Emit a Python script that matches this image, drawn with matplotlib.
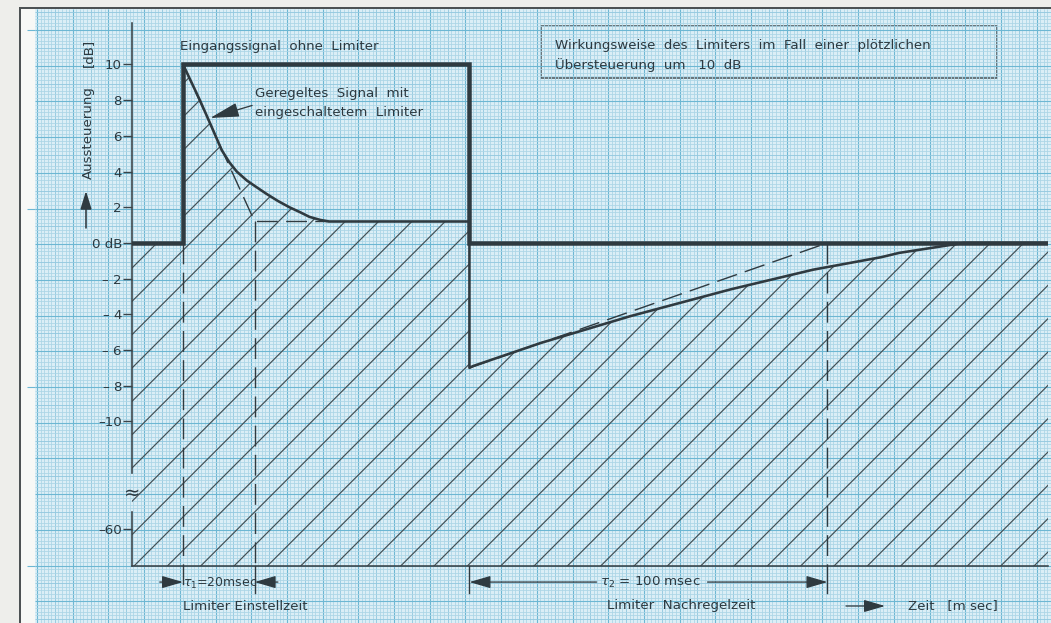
import numpy as np
import matplotlib
matplotlib.use("Agg")
import matplotlib.pyplot as plt
from matplotlib.patches import Rectangle

# ---------------- data ----------------
# time in ms (0 = onset of the 10 dB overload), level in dB
t_input = [-14.25, 0, 0, 80, 80, 241.6]
db_input = [0, 0, 10, 10, 0, 0]

t_attack = [0, 4.7, 8.0, 10.8, 13.0, 15.0, 17.8, 20.7, 23.3, 26.5, 29.7, 32.7, 35.3, 38.3, 40.8, 80]
db_attack = [10, 8.0, 6.5, 5.2, 4.5, 4.0, 3.5, 3.1, 2.75, 2.35, 2.0, 1.72, 1.46, 1.29, 1.2, 1.2]

t_release = [80, 81, 100, 125, 153, 176, 195, 200, 210, 218, 241.6]
db_release = [-7.0, -6.9, -5.6, -4.1, -2.6, -1.5, -0.8, -0.56, -0.25, 0, 0]

t_tangent_attack = [0, 20, 40.8]
db_tangent_attack = [10, 1.2, 1.2]
t_tangent_release = [80, 180]
db_tangent_release = [-7.0, 0]

tau1_start, tau1_end = 0, 20      # 20 msec
tau2_start, tau2_end = 80, 180    # 100 msec

ytick_values = [10, 8, 6, 4, 2, 0, -2, -4, -6, -8, -10, -16]
ytick_labels = ["10", "8", "6", "4", "2", "0 dB", "\u2013 2", "\u2013 4", "\u2013 6",
                "\u2013 8", "\u201310", "\u201360"]
break_level = -14.0

# ---------------- style ----------------
DPI = 200
def pt(px):
    return px * 72.0 / DPI

plt.rcParams['font.family'] = ['DejaVu Sans']
plt.rcParams['hatch.linewidth'] = pt(1.2)
plt.rcParams['lines.scale_dashes'] = False
INK = '#2f3a40'
TXT = '#2c3940'
PAPER = '#dbeef6'
FS = 4.8

fig = plt.figure(figsize=(1051 / DPI, 623 / DPI), dpi=DPI)

# ---------- graph paper background (pixel coordinates) ----------
bg = fig.add_axes([0, 0, 1, 1], zorder=0)
bg.set_xlim(0, 1051)
bg.set_ylim(623, 0)
bg.axis('off')
bg.add_patch(Rectangle((0, 0), 1051, 623, color='#eeeeeb', lw=0))
bg.add_patch(Rectangle((19, 8), 1032, 615, color='#f7f8f6', lw=0))
bg.add_patch(Rectangle((35, 9), 1016, 614, color=PAPER, lw=0))

mm = 3.57
kx = np.arange(0, 286)
gx = 37 + mm * kx
ky = np.arange(-5, 167)
gy = 30 + mm * ky
for kk, g, vert in [(kx, gx, True), (ky, gy, False)]:
    fine = g[(kk % 5) != 0]
    mid = g[((kk % 5) == 0) & ((kk % 10) != 0)]
    major = g[(kk % 10) == 0]
    for arr, col, lw in [(fine, '#acd5e6', 0.8), (mid, '#94c9df', 0.9), (major, '#6db7d3', 1.1)]:
        if vert:
            bg.vlines(arr, 9, 623, colors=col, lw=pt(lw))
        else:
            bg.hlines(arr, 35, 1051, colors=col, lw=pt(lw))
ext = gy[(ky % 50) == 0]
bg.hlines(ext, 27, 35, colors='#6db7d3', lw=pt(1.1))
bg.plot([20, 20], [8, 623], color='#4d5254', lw=pt(2))
bg.plot([20, 1051], [8, 8], color='#4d5254', lw=pt(2))

# info box
bg.add_patch(Rectangle((541, 26), 456, 52, fill=False, ec='#4f5a60', lw=pt(1.6)))
bg.text(555, 45, "Wirkungsweise  des  Limiters  im  Fall  einer  pl\u00f6tzlichen",
        fontsize=FS, color=TXT, va='center', ha='left')
bg.text(555, 65, "\u00dcbersteuerung  um   10  dB", fontsize=FS, color=TXT,
        va='center', ha='left')

# y label with arrow
bg.text(88, 133, "Aussteuerung", rotation=90, fontsize=FS, color=TXT, ha='center', va='center')
bg.text(88, 53, "[dB]", rotation=90, fontsize=FS, color=TXT, ha='center', va='center')
bg.annotate('', xy=(86, 191), xytext=(86, 228),
            arrowprops=dict(arrowstyle='-|>,head_length=0.55,head_width=0.17', color=INK,
                            lw=pt(1.6), mutation_scale=10, shrinkA=0, shrinkB=0))

# bottom annotations
bg.text(220, 583, r"$\tau_1$=20msec", fontsize=4.5, color=TXT, ha='center', va='center')
bg.text(183, 606, "Limiter Einstellzeit", fontsize=FS, color=TXT, ha='left', va='center')
bg.text(650, 582, r"$\tau_2$ = 100 msec", fontsize=FS, color=TXT, ha='center', va='center')
bg.text(607, 606, "Limiter  Nachregelzeit", fontsize=FS, color=TXT, ha='left', va='center')
bg.text(908, 606, "Zeit   [m sec]", fontsize=FS, color=TXT, ha='left', va='center')
arrow_kw = dict(arrowstyle='-|>,head_length=0.65,head_width=0.19', color=INK, lw=pt(1.3),
                mutation_scale=10, shrinkA=0, shrinkB=0)
bg.annotate('', xy=(885, 606), xytext=(846, 606), arrowprops=arrow_kw)

# ---------------- main axes ----------------
ax = fig.add_axes([132 / 1051, 57 / 623, 916 / 1051, 543 / 623], zorder=1)
ax.patch.set_alpha(0)
ax.set_xlim(-14.25, 241.6)
ax.set_ylim(-18.1, 12.32)
y0, y1 = ax.get_ylim()

t_region = [t_input[0], 0] + t_attack + t_release
db_region = [0, 0] + db_attack + db_release
ax.fill_between(t_region, y0, db_region, facecolor='none', edgecolor='#425056',
                hatch='//', lw=0, zorder=1)

# tangent / construction lines
dash = (7.5, 3.0)
ax.plot(t_tangent_attack, db_tangent_attack, color=INK, lw=pt(1.4), dashes=dash, zorder=3)
ax.plot(t_tangent_release, db_tangent_release, color=INK, lw=pt(1.4), dashes=dash, zorder=3)

# time-constant marker lines
yb = -19.6
ax.plot([tau1_start, tau1_start], [0, yb], color=INK, lw=pt(1.4), dashes=dash, clip_on=False, zorder=3)
ax.plot([tau1_end, tau1_end], [db_tangent_attack[1], y0], color=INK, lw=pt(1.4), dashes=dash, zorder=3)
ax.plot([tau1_end, tau1_end], [y0, yb], color=INK, lw=pt(1.4), clip_on=False, zorder=3)
ax.plot([tau2_start, tau2_start], [y0, yb], color=INK, lw=pt(1.4), clip_on=False, zorder=3)
ax.plot([tau2_end, tau2_end], [0, y0], color=INK, lw=pt(1.4), dashes=dash, zorder=3)
ax.plot([tau2_end, tau2_end], [y0, yb], color=INK, lw=pt(1.4), clip_on=False, zorder=3)

# signals
ax.plot(t_attack + t_release, db_attack + db_release, color=INK, lw=pt(2.6),
        solid_joinstyle='round', zorder=4)
ax.plot(t_input, db_input, color=INK, lw=pt(4.5), solid_joinstyle='miter', zorder=5)

# dimension arrows
ydim = -19.0
ax.annotate('', xy=(tau1_start, ydim), xytext=(tau1_start - 6.5, ydim),
            arrowprops=arrow_kw, annotation_clip=False)
ax.annotate('', xy=(tau1_end, ydim), xytext=(tau1_end + 6.5, ydim),
            arrowprops=arrow_kw, annotation_clip=False)
ax.annotate('', xy=(tau2_start, ydim), xytext=(115.5, ydim),
            arrowprops=arrow_kw, annotation_clip=False)
ax.annotate('', xy=(tau2_end, ydim), xytext=(146.5, ydim),
            arrowprops=arrow_kw, annotation_clip=False)

# texts
ax.text(-0.8, 11.0, "Eingangssignal  ohne  Limiter", fontsize=FS, color=TXT, va='center', ha='left')
ax.text(20.1, 8.35, "Geregeltes  Signal  mit", fontsize=FS, color=TXT, va='center', ha='left')
ax.text(20.1, 7.3, "eingeschaltetem  Limiter", fontsize=FS, color=TXT, va='center', ha='left')
ax.annotate('', xy=(7.6, 7.0), xytext=(19.3, 7.7),
            arrowprops=dict(arrowstyle='-|>,head_length=0.9,head_width=0.22', color=INK,
                            lw=pt(1.3), mutation_scale=10, shrinkA=0, shrinkB=0))

# axes spines & ticks
for s in ['top', 'right']:
    ax.spines[s].set_visible(False)
for s in ['left', 'bottom']:
    ax.spines[s].set_color('#3a4348')
    ax.spines[s].set_linewidth(pt(1.6))
ax.spines['left'].set_bounds(-12.9, y1)
ax.axvline(ax.get_xlim()[0], ymin=0, ymax=(-15.1 - y0) / (y1 - y0), color='#3a4348',
           lw=pt(1.6), clip_on=False)
ax.text(ax.get_xlim()[0], break_level, "\u2248", fontsize=7, color=TXT, ha='center', va='center')
ax.set_xticks([])
ax.set_yticks(ytick_values)
ax.set_yticklabels(ytick_labels)
ax.tick_params(axis='y', direction='out', length=pt(9), width=pt(1.4), colors='#3a4348',
               labelsize=FS, pad=pt(1), labelcolor=TXT)

fig.savefig("out.png", dpi=DPI)
